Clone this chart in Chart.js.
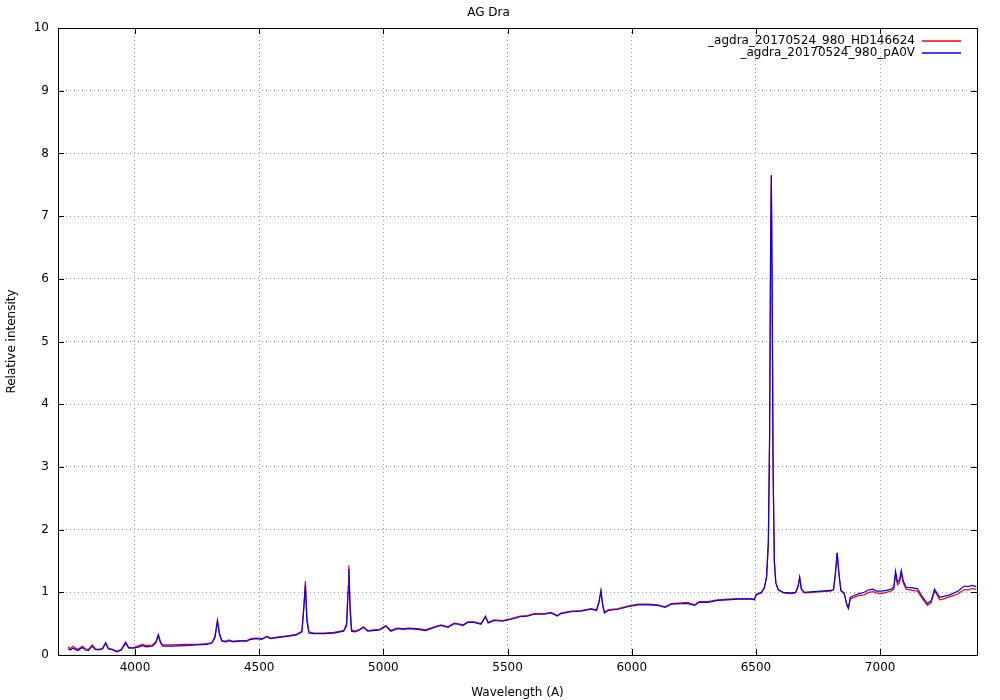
<!DOCTYPE html>
<html>
<head>
<meta charset="utf-8">
<title>AG Dra</title>
<script src="https://cdn.jsdelivr.net/npm/chart.js@4/dist/chart.umd.min.js"></script>
<style>
  html, body { margin: 0; padding: 0; background: #fff; }
  #wrap { width: 1000px; height: 700px; }
</style>
</head>
<body>
<div id="wrap"><canvas id="spectrum"></canvas></div>
<script>
// Wavelength grid (A)
const wavelengths = [
  3730, 3740, 3750, 3760, 3770, 3788, 3800, 3812, 3828, 3840,
  3855, 3870, 3882, 3892, 3910, 3928, 3945, 3962, 3975, 3995,
  4016, 4030, 4045, 4070, 4085, 4094, 4102, 4112, 4150, 4200,
  4250, 4290, 4310, 4322, 4332, 4340, 4350, 4365, 4378, 4395,
  4420, 4450, 4466, 4490, 4510, 4532, 4545, 4580, 4620, 4650,
  4672, 4680, 4686, 4692, 4700, 4720, 4760, 4800, 4840, 4852,
  4858, 4861, 4866, 4872, 4885, 4900, 4920, 4937, 4960, 4985,
  5010, 5030, 5055, 5080, 5100, 5140, 5170, 5205, 5232, 5260,
  5285, 5300, 5320, 5340, 5365, 5393, 5411, 5422, 5447, 5480,
  5515, 5550, 5580, 5607, 5648, 5675, 5700, 5715, 5756, 5796,
  5836, 5858, 5868, 5876, 5883, 5890, 5905, 5945, 5985, 6025,
  6065, 6105, 6134, 6159, 6199, 6225, 6253, 6272, 6306, 6346,
  6386, 6427, 6481, 6494, 6501, 6521, 6534, 6543, 6550, 6555,
  6559, 6562, 6565, 6569, 6574, 6580, 6590, 6610, 6640, 6660,
  6670, 6676, 6683, 6695, 6730, 6763, 6800, 6812, 6820, 6827,
  6834, 6842, 6855, 6866, 6872, 6880, 6895, 6915, 6936, 6955,
  6970, 6985, 7004, 7025, 7045, 7055, 7062, 7070, 7078, 7085,
  7093, 7105, 7130, 7150, 7170, 7190, 7205, 7219, 7230, 7240,
  7260, 7280, 7298, 7315, 7338, 7355, 7370, 7387
];

// _agdra_20170524_980_HD146624 (red)
const fluxHD146624 = [
  0.13, 0.10, 0.14, 0.11, 0.09, 0.14, 0.10, 0.09, 0.16, 0.10,
  0.09, 0.11, 0.20, 0.11, 0.09, 0.06, 0.09, 0.21, 0.12, 0.12,
  0.15, 0.17, 0.15, 0.16, 0.22, 0.33, 0.22, 0.16, 0.16, 0.17,
  0.17, 0.18, 0.20, 0.30, 0.56, 0.35, 0.23, 0.22, 0.24, 0.22,
  0.23, 0.23, 0.26, 0.27, 0.26, 0.30, 0.27, 0.29, 0.31, 0.33,
  0.38, 0.80, 1.18, 0.60, 0.37, 0.35, 0.35, 0.36, 0.39, 0.50,
  1.10, 1.43, 0.80, 0.40, 0.38, 0.40, 0.45, 0.39, 0.40, 0.41,
  0.47, 0.39, 0.43, 0.42, 0.43, 0.42, 0.40, 0.45, 0.48, 0.45,
  0.51, 0.50, 0.48, 0.53, 0.53, 0.50, 0.62, 0.52, 0.56, 0.55,
  0.58, 0.62, 0.63, 0.66, 0.66, 0.68, 0.63, 0.67, 0.70, 0.71,
  0.74, 0.72, 0.85, 1.03, 0.80, 0.68, 0.72, 0.74, 0.78, 0.81,
  0.81, 0.80, 0.77, 0.82, 0.83, 0.84, 0.80, 0.85, 0.85, 0.88,
  0.89, 0.90, 0.90, 0.89, 0.97, 1.00, 1.08, 1.25, 1.80, 3.50,
  6.50, 7.65, 6.00, 3.00, 1.50, 1.15, 1.04, 0.99, 0.98, 0.99,
  1.10, 1.24, 1.05, 0.99, 1.00, 1.01, 1.02, 1.04, 1.30, 1.63,
  1.30, 1.02, 0.98, 0.80, 0.74, 0.90, 0.92, 0.95, 0.96, 1.00,
  1.01, 0.99, 0.98, 1.00, 1.02, 1.05, 1.28, 1.12, 1.15, 1.30,
  1.15, 1.05, 1.03, 1.02, 0.90, 0.79, 0.83, 1.02, 0.95, 0.88,
  0.90, 0.93, 0.95, 0.98, 1.04, 1.04, 1.06, 1.05
];

// _agdra_20170524_980_pA0V (blue)
const fluxPA0V = [
  0.10, 0.08, 0.11, 0.09, 0.07, 0.12, 0.08, 0.07, 0.14, 0.09,
  0.08, 0.10, 0.19, 0.10, 0.08, 0.05, 0.08, 0.19, 0.11, 0.11,
  0.13, 0.15, 0.13, 0.14, 0.20, 0.31, 0.20, 0.14, 0.14, 0.15,
  0.16, 0.17, 0.19, 0.28, 0.54, 0.33, 0.22, 0.21, 0.23, 0.21,
  0.22, 0.22, 0.25, 0.26, 0.25, 0.29, 0.26, 0.28, 0.30, 0.32,
  0.37, 0.75, 1.12, 0.55, 0.35, 0.34, 0.34, 0.35, 0.38, 0.47,
  1.00, 1.37, 0.70, 0.38, 0.37, 0.39, 0.44, 0.38, 0.39, 0.40,
  0.46, 0.38, 0.42, 0.41, 0.42, 0.41, 0.39, 0.44, 0.47, 0.44,
  0.50, 0.49, 0.47, 0.52, 0.52, 0.49, 0.61, 0.51, 0.55, 0.54,
  0.57, 0.61, 0.62, 0.65, 0.65, 0.67, 0.62, 0.66, 0.69, 0.70,
  0.73, 0.71, 0.84, 1.02, 0.79, 0.67, 0.71, 0.73, 0.77, 0.80,
  0.80, 0.79, 0.76, 0.81, 0.82, 0.82, 0.79, 0.84, 0.84, 0.87,
  0.88, 0.89, 0.89, 0.88, 0.96, 0.99, 1.07, 1.25, 1.80, 3.50,
  6.50, 7.65, 6.00, 3.00, 1.50, 1.15, 1.04, 1.00, 0.99, 1.00,
  1.10, 1.24, 1.05, 1.00, 1.01, 1.02, 1.03, 1.04, 1.30, 1.63,
  1.30, 1.03, 0.99, 0.80, 0.75, 0.92, 0.95, 0.98, 1.00, 1.04,
  1.05, 1.02, 1.02, 1.03, 1.05, 1.08, 1.34, 1.16, 1.20, 1.35,
  1.18, 1.08, 1.07, 1.06, 0.93, 0.82, 0.86, 1.05, 0.98, 0.92,
  0.94, 0.96, 0.99, 1.02, 1.10, 1.09, 1.11, 1.09
];

const xTicks = [4000, 4500, 5000, 5500, 6000, 6500, 7000];
const yTicks = [0, 1, 2, 3, 4, 5, 6, 7, 8, 9, 10];
const seriesLabels = ['_agdra_20170524_980_HD146624', '_agdra_20170524_980_pA0V'];
const seriesColors = ['#ff0000', '#0000ff'];

const FONT = 'DejaVu Sans';
Chart.defaults.font.family = FONT;
Chart.defaults.font.size = 12;
Chart.defaults.color = '#000';

/**
 * Gnuplot-style frame with inward ticks on all four sides
 */
const framePlugin = {
  id: 'frame',
  afterDraw(chart) {
    const { ctx, chartArea: a, scales } = chart;
    ctx.save();
    ctx.setLineDash([]);
    ctx.strokeStyle = '#000';
    ctx.lineWidth = 1;
    ctx.strokeRect(Math.round(a.left) + 0.5, Math.round(a.top) + 0.5,
                   Math.round(a.right - a.left), Math.round(a.bottom - a.top));
    ctx.beginPath();
    xTicks.forEach(v => {
      const x = Math.round(scales.x.getPixelForValue(v)) + 0.5;
      ctx.moveTo(x, a.bottom); ctx.lineTo(x, a.bottom - 6);
      ctx.moveTo(x, a.top); ctx.lineTo(x, a.top + 6);
    });
    yTicks.forEach(v => {
      const y = Math.round(scales.y.getPixelForValue(v)) + 0.5;
      ctx.moveTo(a.left, y); ctx.lineTo(a.left + 6, y);
      ctx.moveTo(a.right, y); ctx.lineTo(a.right - 6, y);
    });
    ctx.stroke();
    ctx.restore();
  }
};

/**
 * Legend in the top-right corner: text right-aligned, sample line after it
 */
const keyPlugin = {
  id: 'key',
  afterDraw(chart) {
    const { ctx, chartArea: a } = chart;
    seriesLabels.forEach((label, i) => {
      const y = Math.round(a.top + 13 + i * 12);
      ctx.save();
      ctx.font = `12px ${FONT}`;
      ctx.textAlign = 'right';
      ctx.textBaseline = 'middle';
      ctx.fillStyle = '#000';
      ctx.fillText(label, a.right - 62, y);
      ctx.restore();

      ctx.save();
      ctx.setLineDash([]);
      ctx.globalAlpha = 1;
      ctx.strokeStyle = seriesColors[i];
      ctx.lineWidth = 1.5;
      ctx.beginPath();
      ctx.moveTo(a.right - 55, y);
      ctx.lineTo(a.right - 16, y);
      ctx.stroke();
      ctx.restore();
    });
  }
};

const toPoints = values => wavelengths.map((w, i) => ({ x: w, y: values[i] }));

new Chart(document.getElementById('spectrum'), {
  type: 'line',
  data: {
    datasets: [
      {
        label: seriesLabels[0],
        data: toPoints(fluxHD146624),
        borderColor: seriesColors[0],
        borderWidth: 1.2,
        pointRadius: 0,
        tension: 0,
        order: 1
      },
      {
        label: seriesLabels[1],
        data: toPoints(fluxPA0V),
        borderColor: seriesColors[1],
        borderWidth: 1.2,
        pointRadius: 0,
        tension: 0,
        order: 0
      }
    ]
  },
  options: {
    responsive: true,
    maintainAspectRatio: false,
    animation: false,
    layout: { padding: { left: 0, right: 23, top: 0, bottom: 0 } },
    plugins: {
      legend: { display: false },
      tooltip: { enabled: false },
      title: {
        display: true,
        text: 'AG Dra',
        font: { size: 12, weight: 'normal' },
        color: '#000',
        padding: { top: 6, bottom: 7.6 }
      }
    },
    scales: {
      x: {
        type: 'linear',
        min: 3690,
        max: 7390,
        afterBuildTicks: s => { s.ticks = xTicks.map(v => ({ value: v })); },
        afterFit: s => { s.height = 45; },
        ticks: { padding: 6, maxRotation: 0, color: '#000', callback: v => String(v) },
        grid: { color: '#a0a0a0', lineWidth: 1, drawTicks: false },
        border: { display: false, dash: [1, 3] },
        title: {
          display: true,
          text: 'Wavelength (A)',
          color: '#000',
          padding: { top: 3, bottom: 0 }
        }
      },
      y: {
        min: 0,
        max: 10,
        afterBuildTicks: s => { s.ticks = yTicks.map(v => ({ value: v })); },
        afterFit: s => { s.width = 58; },
        ticks: { padding: 9, color: '#000', callback: v => String(v) },
        grid: { color: '#a0a0a0', lineWidth: 1, drawTicks: false },
        border: { display: false, dash: [1, 3] },
        title: {
          display: true,
          text: 'Relative intensity',
          color: '#000',
          padding: { top: 5, bottom: 0 }
        }
      }
    }
  },
  plugins: [framePlugin, keyPlugin]
});
</script>
</body>
</html>
